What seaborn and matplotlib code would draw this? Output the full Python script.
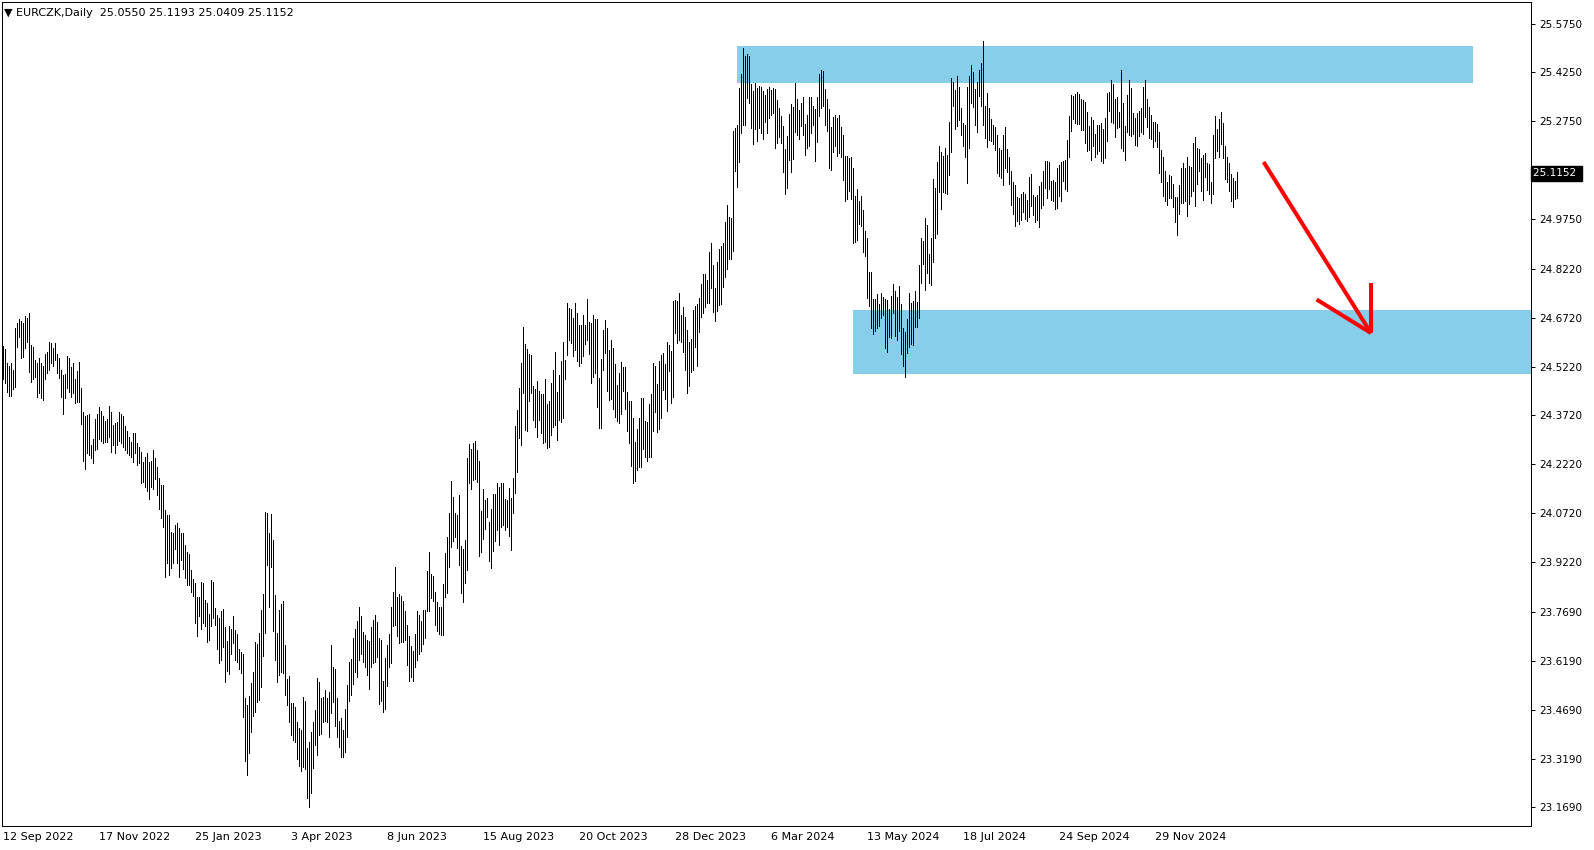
import numpy as np
import pandas as pd
import matplotlib
matplotlib.use('Agg')
import matplotlib.pyplot as plt
import matplotlib.patches as mpatches
import matplotlib.transforms as mtrans
import seaborn as sns

SYMBOL = 'EURCZK,Daily'
LAST_OHLC = [25.0550, 25.1193, 25.0409, 25.1152]

# daily highs, one per bar
HIGH = [
    24.585, 24.575, 24.534, 24.524, 24.534, 24.512, 24.639, 24.655, 24.667, 24.662,
    24.655, 24.677, 24.672, 24.685, 24.588, 24.581, 24.542, 24.532, 24.547, 24.534,
    24.524, 24.561, 24.568, 24.596, 24.593, 24.578, 24.593, 24.561, 24.547, 24.512,
    24.496, 24.499, 24.554, 24.547, 24.522, 24.532, 24.483, 24.508, 24.537, 24.455,
    24.384, 24.370, 24.372, 24.376, 24.281, 24.300, 24.361, 24.376, 24.397, 24.387,
    24.370, 24.356, 24.360, 24.401, 24.383, 24.343, 24.350, 24.353, 24.383, 24.376,
    24.370, 24.340, 24.323, 24.307, 24.292, 24.317, 24.317, 24.288, 24.276, 24.260,
    24.230, 24.245, 24.258, 24.230, 24.233, 24.266, 24.240, 24.213, 24.180, 24.159,
    24.159, 24.082, 24.065, 24.065, 24.015, 24.012, 24.036, 24.041, 24.027, 24.012,
    24.010, 23.974, 23.954, 23.946, 23.898, 23.869, 23.859, 23.816, 23.816, 23.861,
    23.857, 23.806, 23.795, 23.763, 23.867, 23.861, 23.781, 23.760, 23.751, 23.772,
    23.778, 23.724, 23.680, 23.726, 23.717, 23.757, 23.714, 23.701, 23.656, 23.646,
    23.640, 23.504, 23.483, 23.511, 23.552, 23.584, 23.676, 23.671, 23.703, 23.775,
    23.824, 24.075, 24.074, 24.012, 24.070, 23.990, 23.821, 23.705, 23.775, 23.793,
    23.804, 23.668, 23.563, 23.572, 23.491, 23.491, 23.476, 23.431, 23.412, 23.407,
    23.507, 23.497, 23.351, 23.371, 23.401, 23.432, 23.468, 23.566, 23.554, 23.504,
    23.508, 23.530, 23.505, 23.524, 23.669, 23.601, 23.595, 23.506, 23.435, 23.442,
    23.407, 23.471, 23.545, 23.615, 23.625, 23.689, 23.717, 23.742, 23.783, 23.757,
    23.708, 23.697, 23.683, 23.680, 23.724, 23.744, 23.760, 23.739, 23.689, 23.683,
    23.557, 23.628, 23.669, 23.701, 23.785, 23.830, 23.906, 23.816, 23.824, 23.818,
    23.804, 23.773, 23.729, 23.695, 23.665, 23.649, 23.702, 23.772, 23.760, 23.742,
    23.775, 23.775, 23.895, 23.952, 23.885, 23.878, 23.831, 23.800, 23.785, 23.785,
    23.855, 23.949, 24.000, 24.074, 24.171, 24.121, 24.074, 24.067, 24.128, 23.970,
    23.962, 23.990, 24.241, 24.285, 24.268, 24.287, 24.294, 24.266, 24.232, 24.080,
    24.146, 24.113, 24.118, 24.046, 24.084, 24.131, 24.131, 24.164, 24.152, 24.164,
    24.164, 24.116, 24.113, 24.149, 24.118, 24.180, 24.340, 24.389, 24.456, 24.532,
    24.645, 24.591, 24.575, 24.561, 24.558, 24.461, 24.453, 24.478, 24.447, 24.437,
    24.438, 24.483, 24.407, 24.415, 24.471, 24.512, 24.568, 24.445, 24.496, 24.539,
    24.599, 24.542, 24.718, 24.702, 24.699, 24.670, 24.716, 24.688, 24.650, 24.650,
    24.681, 24.650, 24.729, 24.660, 24.655, 24.681, 24.668, 24.667, 24.488, 24.546,
    24.635, 24.665, 24.640, 24.573, 24.603, 24.579, 24.530, 24.465, 24.503, 24.536,
    24.521, 24.521, 24.445, 24.417, 24.417, 24.365, 24.291, 24.330, 24.365, 24.425,
    24.425, 24.355, 24.353, 24.407, 24.438, 24.534, 24.525, 24.468, 24.539, 24.557,
    24.565, 24.530, 24.596, 24.589, 24.570, 24.723, 24.726, 24.723, 24.747, 24.680,
    24.706, 24.675, 24.634, 24.597, 24.608, 24.695, 24.709, 24.714, 24.734, 24.775,
    24.806, 24.806, 24.787, 24.873, 24.900, 24.833, 24.763, 24.842, 24.882, 24.892,
    24.900, 24.965, 25.018, 24.981, 24.978, 25.245, 25.253, 25.265, 25.376, 25.419,
    25.501, 25.475, 25.481, 25.475, 25.389, 25.369, 25.391, 25.378, 25.383, 25.380,
    25.369, 25.355, 25.373, 25.379, 25.371, 25.377, 25.374, 25.340, 25.315, 25.291,
    25.260, 25.189, 25.229, 25.297, 25.328, 25.319, 25.393, 25.343, 25.310, 25.330,
    25.348, 25.266, 25.294, 25.348, 25.348, 25.321, 25.312, 25.348, 25.420, 25.433,
    25.430, 25.374, 25.344, 25.313, 25.256, 25.288, 25.294, 25.284, 25.294, 25.256,
    25.233, 25.167, 25.167, 25.161, 25.166, 25.133, 25.046, 25.067, 25.031, 25.046,
    25.003, 24.938, 24.918, 24.813, 24.813, 24.730, 24.730, 24.744, 24.715, 24.749,
    24.736, 24.730, 24.727, 24.699, 24.739, 24.776, 24.754, 24.736, 24.770, 24.715,
    24.640, 24.628, 24.668, 24.748, 24.716, 24.724, 24.754, 24.719, 24.834, 24.918,
    24.908, 24.979, 24.957, 24.868, 24.918, 25.098, 25.071, 25.151, 25.199, 25.182,
    25.167, 25.194, 25.170, 25.273, 25.409, 25.397, 25.371, 25.414, 25.379, 25.316,
    25.270, 25.262, 25.381, 25.415, 25.448, 25.427, 25.374, 25.397, 25.431, 25.454,
    25.520, 25.323, 25.361, 25.316, 25.282, 25.264, 25.258, 25.233, 25.194, 25.186,
    25.233, 25.258, 25.190, 25.166, 25.123, 25.090, 25.078, 25.043, 25.040, 25.053,
    25.059, 25.053, 25.032, 25.104, 25.113, 25.049, 25.043, 25.049, 25.077, 25.090,
    25.121, 25.153, 25.153, 25.151, 25.092, 25.095, 25.090, 25.131, 25.141, 25.149,
    25.153, 25.156, 25.218, 25.291, 25.356, 25.353, 25.359, 25.364, 25.358, 25.343,
    25.341, 25.333, 25.303, 25.261, 25.287, 25.279, 25.236, 25.264, 25.264, 25.269,
    25.252, 25.286, 25.361, 25.366, 25.402, 25.390, 25.344, 25.348, 25.303, 25.433,
    25.331, 25.259, 25.356, 25.402, 25.378, 25.300, 25.286, 25.300, 25.307, 25.317,
    25.381, 25.402, 25.344, 25.320, 25.294, 25.274, 25.272, 25.267, 25.241, 25.187,
    25.164, 25.121, 25.090, 25.110, 25.107, 25.082, 25.044, 25.041, 25.080, 25.131,
    25.146, 25.131, 25.164, 25.138, 25.136, 25.208, 25.227, 25.192, 25.190, 25.161,
    25.172, 25.177, 25.146, 25.144, 25.090, 25.233, 25.292, 25.252, 25.282, 25.303,
    25.271, 25.199, 25.166, 25.146, 25.112, 25.100, 25.092, 25.1193,
]

# daily lows, one per bar
LOW = [
    24.483, 24.473, 24.445, 24.432, 24.432, 24.452, 24.458, 24.581, 24.614, 24.547,
    24.552, 24.578, 24.598, 24.506, 24.476, 24.483, 24.491, 24.428, 24.440, 24.425,
    24.421, 24.483, 24.501, 24.511, 24.532, 24.525, 24.542, 24.501, 24.486, 24.428,
    24.378, 24.425, 24.455, 24.445, 24.428, 24.440, 24.411, 24.414, 24.414, 24.345,
    24.233, 24.209, 24.256, 24.251, 24.240, 24.227, 24.266, 24.268, 24.299, 24.295,
    24.286, 24.292, 24.292, 24.307, 24.261, 24.281, 24.256, 24.281, 24.295, 24.286,
    24.276, 24.266, 24.258, 24.251, 24.245, 24.230, 24.256, 24.219, 24.225, 24.164,
    24.169, 24.151, 24.140, 24.117, 24.151, 24.146, 24.176, 24.129, 24.086, 24.058,
    24.031, 23.877, 23.918, 23.882, 23.903, 23.920, 23.961, 23.918, 23.877, 23.928,
    23.900, 23.872, 23.852, 23.852, 23.831, 23.818, 23.736, 23.696, 23.757, 23.718,
    23.734, 23.726, 23.678, 23.683, 23.726, 23.749, 23.729, 23.654, 23.613, 23.622,
    23.662, 23.555, 23.588, 23.578, 23.639, 23.675, 23.620, 23.616, 23.595, 23.583,
    23.448, 23.310, 23.267, 23.337, 23.402, 23.450, 23.463, 23.494, 23.499, 23.540,
    23.635, 23.703, 23.913, 23.783, 23.906, 23.712, 23.622, 23.555, 23.574, 23.586,
    23.581, 23.513, 23.482, 23.432, 23.391, 23.376, 23.369, 23.319, 23.296, 23.282,
    23.294, 23.286, 23.197, 23.171, 23.214, 23.289, 23.361, 23.330, 23.391, 23.393,
    23.430, 23.435, 23.430, 23.386, 23.458, 23.492, 23.420, 23.386, 23.353, 23.325,
    23.325, 23.338, 23.386, 23.497, 23.513, 23.548, 23.585, 23.568, 23.622, 23.640,
    23.616, 23.601, 23.575, 23.534, 23.601, 23.613, 23.616, 23.630, 23.485, 23.497,
    23.463, 23.470, 23.543, 23.601, 23.613, 23.727, 23.728, 23.696, 23.673, 23.678,
    23.678, 23.683, 23.606, 23.557, 23.570, 23.558, 23.600, 23.620, 23.640, 23.650,
    23.670, 23.688, 23.772, 23.772, 23.811, 23.803, 23.729, 23.709, 23.702, 23.698,
    23.698, 23.816, 23.828, 23.908, 23.967, 23.988, 23.998, 23.965, 23.913, 23.826,
    23.798, 23.857, 23.898, 24.166, 24.147, 24.174, 24.176, 24.169, 23.941, 23.954,
    23.993, 24.024, 24.059, 23.926, 23.905, 23.957, 23.987, 24.019, 23.975, 24.031,
    24.036, 24.021, 24.031, 24.002, 23.959, 24.072, 24.133, 24.197, 24.302, 24.282,
    24.440, 24.328, 24.323, 24.415, 24.440, 24.358, 24.338, 24.307, 24.358, 24.317,
    24.289, 24.292, 24.271, 24.276, 24.312, 24.338, 24.343, 24.297, 24.358, 24.353,
    24.363, 24.484, 24.558, 24.604, 24.594, 24.553, 24.573, 24.540, 24.524, 24.534,
    24.553, 24.591, 24.604, 24.561, 24.473, 24.491, 24.502, 24.399, 24.333, 24.335,
    24.512, 24.565, 24.448, 24.419, 24.422, 24.393, 24.368, 24.356, 24.348, 24.378,
    24.448, 24.391, 24.325, 24.286, 24.218, 24.165, 24.172, 24.206, 24.213, 24.215,
    24.268, 24.245, 24.233, 24.245, 24.245, 24.325, 24.383, 24.320, 24.329, 24.365,
    24.450, 24.422, 24.386, 24.509, 24.411, 24.429, 24.626, 24.595, 24.603, 24.598,
    24.567, 24.511, 24.442, 24.463, 24.506, 24.511, 24.581, 24.525, 24.629, 24.675,
    24.685, 24.704, 24.716, 24.716, 24.762, 24.690, 24.663, 24.693, 24.711, 24.713,
    24.765, 24.798, 24.820, 24.852, 24.852, 24.877, 25.123, 25.074, 25.151, 25.240,
    25.265, 25.263, 25.347, 25.332, 25.255, 25.204, 25.250, 25.215, 25.253, 25.238,
    25.221, 25.273, 25.238, 25.286, 25.294, 25.301, 25.194, 25.207, 25.227, 25.209,
    25.120, 25.053, 25.071, 25.156, 25.120, 25.158, 25.243, 25.233, 25.219, 25.260,
    25.232, 25.171, 25.192, 25.199, 25.240, 25.263, 25.154, 25.212, 25.291, 25.317,
    25.323, 25.262, 25.246, 25.133, 25.124, 25.182, 25.200, 25.167, 25.177, 25.164,
    25.095, 25.029, 25.037, 25.062, 25.037, 24.900, 24.903, 24.912, 24.960, 24.952,
    24.875, 24.862, 24.734, 24.709, 24.639, 24.621, 24.630, 24.640, 24.648, 24.671,
    24.681, 24.580, 24.566, 24.613, 24.611, 24.685, 24.617, 24.603, 24.630, 24.562,
    24.525, 24.491, 24.563, 24.581, 24.591, 24.587, 24.644, 24.642, 24.670, 24.780,
    24.838, 24.757, 24.808, 24.780, 24.771, 24.844, 24.918, 24.929, 25.057, 25.007,
    25.057, 25.054, 25.052, 25.110, 25.182, 25.323, 25.252, 25.259, 25.280, 25.233,
    25.200, 25.164, 25.084, 25.194, 25.331, 25.320, 25.262, 25.243, 25.351, 25.323,
    25.262, 25.223, 25.195, 25.218, 25.215, 25.204, 25.188, 25.116, 25.106, 25.102,
    25.080, 25.131, 25.119, 25.083, 25.018, 24.991, 24.955, 24.970, 24.960, 24.971,
    24.995, 24.974, 24.970, 24.982, 25.016, 24.988, 24.967, 24.971, 24.949, 25.010,
    25.018, 25.069, 25.039, 25.067, 25.032, 25.029, 25.006, 25.010, 25.047, 25.031,
    25.093, 25.067, 25.061, 25.164, 25.245, 25.282, 25.269, 25.266, 25.267, 25.248,
    25.248, 25.208, 25.184, 25.187, 25.156, 25.199, 25.164, 25.175, 25.184, 25.153,
    25.148, 25.161, 25.213, 25.307, 25.272, 25.269, 25.227, 25.254, 25.256, 25.192,
    25.184, 25.156, 25.243, 25.233, 25.231, 25.236, 25.202, 25.199, 25.231, 25.243,
    25.235, 25.289, 25.256, 25.223, 25.221, 25.197, 25.213, 25.195, 25.117, 25.090,
    25.046, 25.029, 25.018, 25.039, 25.039, 25.011, 24.967, 24.926, 24.991, 25.023,
    25.023, 25.031, 24.985, 25.022, 25.047, 25.061, 25.016, 25.083, 25.121, 25.061,
    25.032, 25.105, 25.064, 25.053, 25.023, 25.052, 25.161, 25.184, 25.166, 25.204,
    25.161, 25.098, 25.088, 25.062, 25.029, 25.011, 25.036, 25.0409,
]

DATE_LABELS = ['12 Sep 2022', '17 Nov 2022', '25 Jan 2023', '3 Apr 2023', '8 Jun 2023',
               '15 Aug 2023', '20 Oct 2023', '28 Dec 2023', '6 Mar 2024', '13 May 2024',
               '18 Jul 2024', '24 Sep 2024', '29 Nov 2024']
BARS_PER_LABEL = 48

PRICE_TICKS = [25.5750, 25.4250, 25.2750, 24.9750, 24.8220, 24.6720, 24.5220, 24.3720,
               24.2220, 24.0720, 23.9220, 23.7690, 23.6190, 23.4690, 23.3190, 23.1690]

# drawn objects: (bar from, bar to, price low, price high)
ZONE_TOP = (367, 735, 25.393, 25.506)
ZONE_BOTTOM = (425, 764, 24.500, 24.695)
ARROW_FROM = (630.3, 25.150)
ARROW_TO = (684.0, 24.625)
ARROW_HEAD = [(684.0, 24.779), (656.8, 24.728)]

W, H = 1594, 850

sns.set_style('white')
plt.rcParams['font.family'] = ['DejaVu Sans']

fig = plt.figure(figsize=(W / 100, H / 100), dpi=100)
ax = fig.add_axes([2 / W, 24 / H, 1529 / W, 824 / H])

n = min(len(HIGH), len(LOW))
idx = np.arange(n)
bars = pd.DataFrame({
    'bar': np.repeat(idx, 2),
    'price': np.column_stack([LOW[:n], HIGH[:n]]).ravel(),
})
sns.lineplot(data=bars, x='bar', y='price', units='bar', estimator=None, sort=False,
             color='black', linewidth=0.72, antialiased=False, ax=ax, legend=False, zorder=3)

for x0, x1, y0, y1 in (ZONE_TOP, ZONE_BOTTOM):
    ax.add_patch(mpatches.Rectangle((x0, y0), x1 - x0, y1 - y0,
                                    facecolor='#87CEEB', edgecolor='none', zorder=1))

red = '#FF0000'
ax.plot([ARROW_FROM[0], ARROW_TO[0]], [ARROW_FROM[1], ARROW_TO[1]], color=red, lw=2.9,
        solid_capstyle='butt', zorder=4)
for hx, hy in ARROW_HEAD:
    ax.plot([hx, ARROW_TO[0]], [hy, ARROW_TO[1]], color=red, lw=2.9,
            solid_capstyle='butt', zorder=4)

ax.set_xlim(-0.5, 764)
ax.set_ylim(23.112, 25.641)
ax.set_xlabel('')
ax.set_ylabel('')

ax.set_xticks([k * BARS_PER_LABEL for k in range(len(DATE_LABELS))])
ax.set_xticklabels(DATE_LABELS, ha='left', fontsize=8)
ax.yaxis.tick_right()
ax.set_yticks(PRICE_TICKS)
ax.set_yticklabels([f'{p:.4f}' for p in PRICE_TICKS], fontsize=7.5)
ax.tick_params(axis='x', direction='out', length=3, width=0.72, pad=1, colors='black')
ax.tick_params(axis='y', direction='out', length=3, width=0.72, pad=3, colors='black')
for s in ax.spines.values():
    s.set_visible(True)
    s.set_color('black')
    s.set_linewidth(0.72)

# current price box on the axis
blend = mtrans.blended_transform_factory(ax.transAxes, ax.transData)
ax.text(1.0012, LAST_OHLC[3], f'{LAST_OHLC[3]:.4f} ', transform=blend, ha='left', va='center',
        fontsize=7.5, color='white', zorder=6, clip_on=False,
        bbox=dict(boxstyle='square,pad=0.22', facecolor='black', edgecolor='black'))

title = '\u25BC ' + SYMBOL + '  ' + ' '.join(f'{v:.4f}' for v in LAST_OHLC)
ax.annotate(title, xy=(0, 1), xycoords='axes fraction', xytext=(2, -11),
            textcoords='offset pixels', ha='left', va='center', fontsize=8, color='black')

fig.savefig('out.png', dpi=100)
